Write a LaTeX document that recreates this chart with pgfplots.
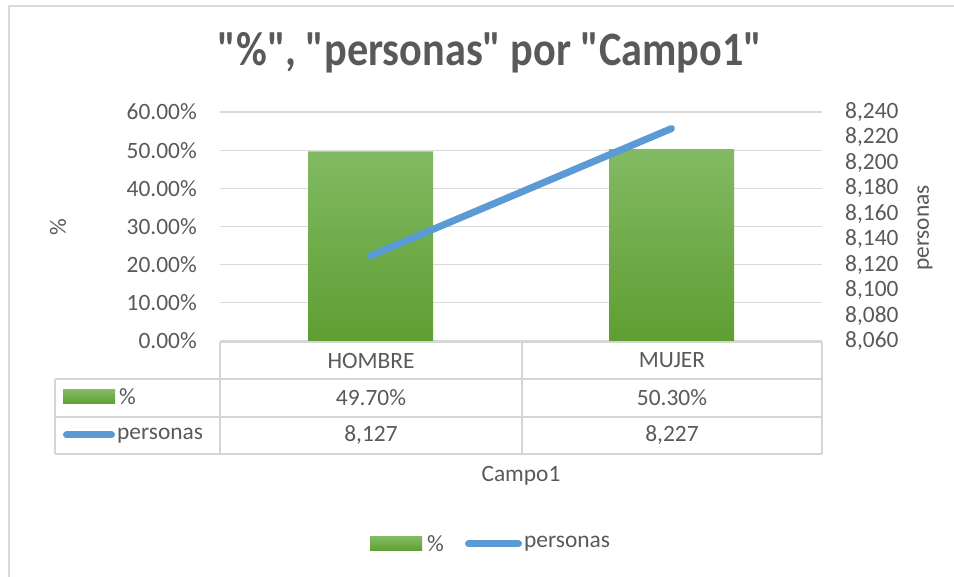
\documentclass[border=0pt]{standalone}
\usepackage{pgfplots}
\pgfplotsset{compat=1.18}
\usepackage{fontspec}
\setmainfont{Carlito}[Ligatures=TeXOff]
\definecolor{txt}{HTML}{595959}
\definecolor{gridc}{HTML}{D9D9D9}
\definecolor{tbl}{HTML}{D5D5D5}
\definecolor{gtop}{HTML}{82BA63}
\definecolor{gbot}{HTML}{5E9E32}
\definecolor{lblue}{HTML}{5B9BD5}
\newcommand{\bodyfont}{\fontsize{23.4}{28}\selectfont}
\begin{document}
\begin{tikzpicture}[x=1pt,y=1pt]
\path[use as bounding box] (0,0) rectangle (954,577);
\draw[gridc, line width=1.5pt] (9,-5) -- (9,571) -- (960,571);
% title
\node[anchor=base, text=txt] at (490,511) {\scalebox{0.88}[1]{\fontsize{48}{52}\selectfont\bfseries "\%", "personas" por "Campo1"}};
% primary axis
\begin{axis}[at={(220pt,236pt)}, anchor=south west, scale only axis,
  width=602pt, height=229pt,
  xmin=-0.5, xmax=1.5, ymin=0, ymax=60, ytick={0,10,20,30,40,50,60},
  axis x line=none, axis y line*=left, y axis line style={draw=none},
  major tick length=0pt,
  ymajorgrids, grid style={gridc, line width=1.3pt},
  /pgf/number format/assume math mode=true,
  yticklabel={\pgfmathprintnumber[fixed,fixed zerofill,precision=2]{\tick}\%},
  yticklabel style={font=\bodyfont, text=txt, inner sep=0pt, anchor=east, xshift=-23pt},
  clip=false]
\addplot[ybar, bar width=125pt, draw=none, top color=gtop, bottom color=gbot] coordinates {(0,49.7) (1,50.3)};
\end{axis}
% secondary axis
\begin{axis}[at={(220pt,236pt)}, anchor=south west, scale only axis,
  width=602pt, height=229pt,
  xmin=-0.5, xmax=1.5, ymin=8060, ymax=8240,
  ytick={8060,8080,8100,8120,8140,8160,8180,8200,8220,8240},
  axis x line=none, axis y line*=right, y axis line style={draw=none},
  major tick length=0pt,
  /pgf/number format/assume math mode=true,
  /pgf/number format/1000 sep={,},
  yticklabel style={font=\bodyfont, text=txt, inner sep=0pt, anchor=west, xshift=23pt},
  clip=false]
\addplot[lblue, line width=7pt, line cap=round] coordinates {(0,8127) (1,8227)};
\end{axis}
% axis titles
\node[rotate=90, text=txt, font=\bodyfont] at (58,350) {\%};
\node[rotate=90, text=txt, font=\bodyfont] at (925,349) {personas};
% data table
\begin{scope}[tbl, line width=1.5pt]
\draw (220,235) -- (822,235);
\draw (55,198) -- (822,198);
\draw (55,160) -- (822,160);
\draw (55,123) -- (822,123);
\draw (55,198) -- (55,123);
\draw (220,235) -- (220,123);
\draw (522,235) -- (522,123);
\draw (822,235) -- (822,123);
\end{scope}
\begin{scope}[every node/.style={text=txt, font=\bodyfont}]
\node at (371,216.5) {HOMBRE};
\node at (672,216.5) {MUJER};
\node at (371,179) {49.70\%};
\node at (672,179) {50.30\%};
\node at (371,141.5) {8,127};
\node at (672,141.5) {8,227};
\shade[top color=gtop, bottom color=gbot] (63,173) rectangle (115,187);
\node[anchor=west, inner sep=0pt] at (119,180) {\%};
\draw[lblue, line width=7pt, line cap=round] (66.5,142) -- (111.5,142);
\node[anchor=west, inner sep=0pt] at (117,141.5) {personas};
\node at (521,101) {Campo1};
\shade[top color=gtop, bottom color=gbot] (370,26) rectangle (422,40);
\node[anchor=west, inner sep=0pt] at (427,33) {\%};
\draw[lblue, line width=7pt, line cap=round] (468.5,33) -- (518.5,33);
\node[anchor=west, inner sep=0pt] at (524,33) {personas};
\end{scope}
\end{tikzpicture}
\end{document}
